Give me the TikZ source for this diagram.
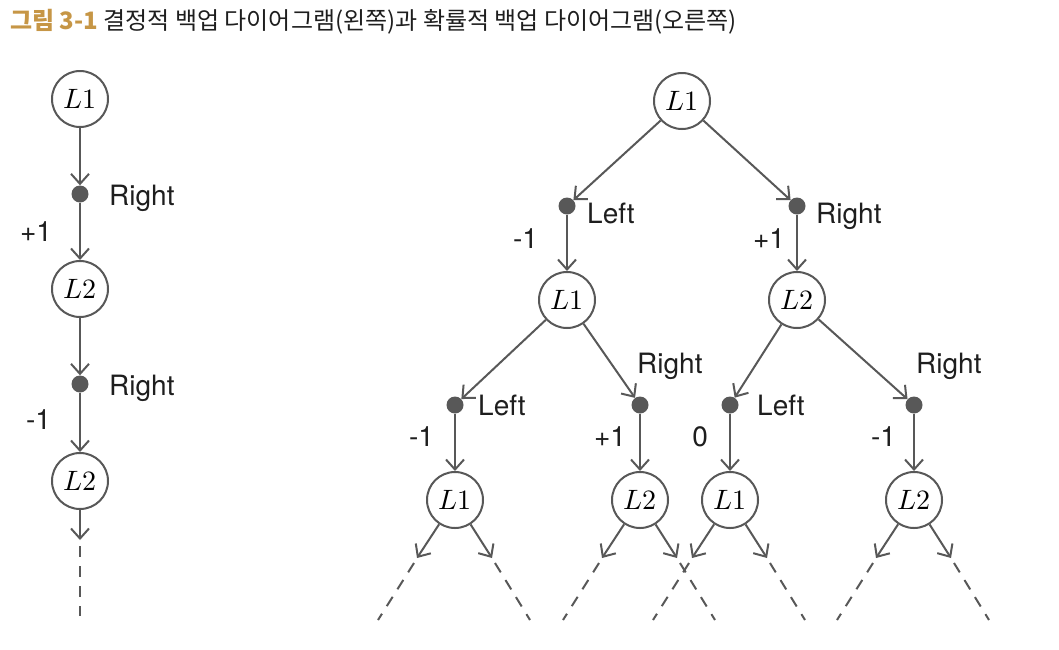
\documentclass[tikz,border=0pt]{standalone}
\usepackage{fontspec}
\setmainfont{TeX Gyre Heros}
\newfontfamily\kfont{Noto Sans CJK KR}
\newfontfamily\mfont{Latin Modern Math}
\usetikzlibrary{arrows.meta}
\definecolor{linegray}{RGB}{88,88,88}
\definecolor{titlegold}{RGB}{198,150,70}
\definecolor{textblack}{RGB}{30,30,30}

\begin{document}
\begin{tikzpicture}[x=1pt,y=-1pt,
    state/.style={circle,draw=linegray,line width=2pt,inner sep=0pt,minimum size=56pt,font=\mfont\fontsize{28}{28}\selectfont},
    act/.style={circle,fill=linegray,inner sep=0pt,minimum size=17pt},
    lab/.style={inner sep=0pt,font=\fontsize{28}{28}\selectfont,text=textblack},
    arr/.style={draw=linegray,line width=2pt,-{Straight Barb[length=10pt,width=18pt]}},
    more/.style={draw=linegray,line width=2pt,dash pattern=on 11pt off 9pt}]
  \useasboundingbox (0,0) rectangle (1059,649);
  \node[anchor=base west,inner sep=0pt,font=\kfont\fontsize{24}{24}\selectfont] (title) at (10,29)
    {\textcolor{titlegold}{\bfseries 그림 3-1}\ \textcolor{textblack}{결정적 백업 다이어그램(왼쪽)과 확률적 백업 다이어그램(오른쪽)}};

  % deterministic backup
  \node[state] (a1) at (80,99) {𝐿1};
  \node[act] (a2) at (80,194) {};
  \node[state] (a3) at (80,289) {𝐿2};
  \node[act] (a4) at (80,384) {};
  \node[state] (a5) at (80,481) {𝐿2};
  \coordinate (a6) at (80,540);
  \coordinate (a7) at (80,546);
  \coordinate (a8) at (80,616);
  \node[lab,anchor=base west] (a2r) at (109,205) {Right};
  \node[lab,anchor=base west] (a4r) at (109,395) {Right};
  \path
    (a1) edge[arr] (a2)
    (a2) edge[arr] node[lab,left=27pt] {+1} (a3)
    (a3) edge[arr] (a4)
    (a4) edge[arr] node[lab,left=28pt,pos=0.45] {-1} (a5)
    (a5) edge[arr] (a6);
  \draw[more] (a7) -- (a8);

  % stochastic backup
  \node[state] (r) at (682,101) {𝐿1};
  \node[act] (rl) at (567,206) {};
  \node[act] (rr) at (797,206) {};
  \node[state] (s1) at (567,300) {𝐿1};
  \node[state] (s2) at (797,300) {𝐿2};
  \node[act] (s1l) at (455,405) {};
  \node[act] (s1r) at (640,405) {};
  \node[act] (s2l) at (730,405) {};
  \node[act] (s2r) at (914,405) {};
  \node[state] (t1) at (455,500) {𝐿1};
  \node[state] (t2) at (640,500) {𝐿2};
  \node[state] (t3) at (730,500) {𝐿1};
  \node[state] (t4) at (914,500) {𝐿2};
  \node[lab,anchor=base west] (rll) at (587,223) {Left};
  \node[lab,anchor=base west] (rrl) at (816,223) {Right};
  \node[lab,anchor=base west] (s1ll) at (478,415) {Left};
  \node[lab,anchor=base west] (s1rl) at (637,373) {Right};
  \node[lab,anchor=base west] (s2ll) at (757,415) {Left};
  \node[lab,anchor=base west] (s2rl) at (916,373) {Right};
  \path
    (r) edge[arr] (rl)
    (r) edge[arr] (rr)
    (rl) edge[arr] node[lab,left=28pt,pos=0.42] {-1} (s1)
    (rr) edge[arr] node[lab,left=11pt,pos=0.42] {+1} (s2)
    (s1) edge[arr] (s1l)
    (s1) edge[arr] (s1r)
    (s2) edge[arr] (s2l)
    (s2) edge[arr] (s2r)
    (s1l) edge[arr] node[lab,left=20pt,pos=0.4] {-1} (t1)
    (s1r) edge[arr] node[lab,left=13pt,pos=0.4] {+1} (t2)
    (s2l) edge[arr] node[lab,left=21pt,pos=0.4] {0} (t3)
    (s2r) edge[arr] node[lab,left=17pt,pos=0.4] {-1} (t4);

  % further branches
  \foreach \n in {t1,t2,t3,t4} {
    \coordinate (\n-l1) at ([shift={(-38,58)}]\n.center);
    \coordinate (\n-l2) at ([shift={(-41,63)}]\n.center);
    \coordinate (\n-l3) at ([shift={(-77,120)}]\n.center);
    \coordinate (\n-r1) at ([shift={(37,58)}]\n.center);
    \coordinate (\n-r2) at ([shift={(40,63)}]\n.center);
    \coordinate (\n-r3) at ([shift={(75,120)}]\n.center);
    \draw[arr] (\n) -- (\n-l1);
    \draw[arr] (\n) -- (\n-r1);
    \draw[more] (\n-l2) -- (\n-l3);
    \draw[more] (\n-r2) -- (\n-r3);
  }
\end{tikzpicture}
\end{document}
